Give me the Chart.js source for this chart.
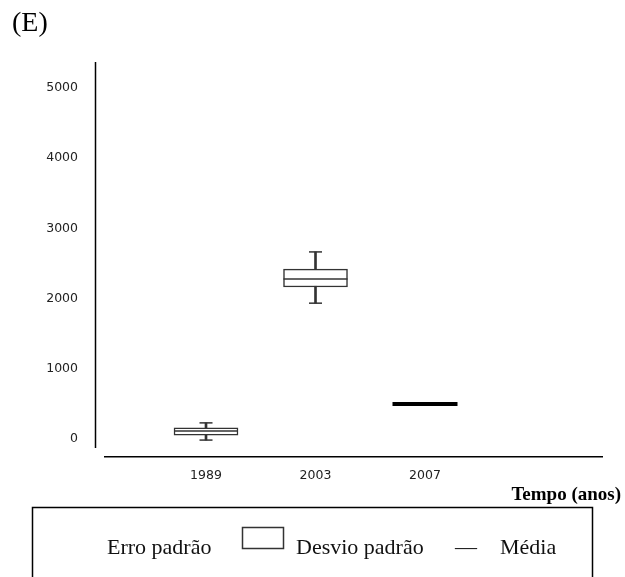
<!DOCTYPE html>
<html>
<head>
<meta charset="utf-8">
<script src="https://cdn.jsdelivr.net/npm/chart.js@4"></script>
<style>
  html, body { margin: 0; padding: 0; background: #fff; }
  canvas { display: block; }
</style>
</head>
<body>
<canvas id="c" width="625" height="577"></canvas>
<script>
// ---- data ----
const years = ['1989', '2003', '2007'];
const whiskerLow  = [-15, 1935, null];
const boxLow      = [55, 2165, null];
const median      = [115, 2280, null];
const boxHigh     = [160, 2420, null];
const whiskerHigh = [230, 2665, null];
const mean        = [null, null, 500];
const yTicks = [0, 1000, 2000, 3000, 4000, 5000];
const legendLabels = ['Erro padrão', 'Desvio padrão', '—', 'Média'];
const chartTitle = '(E)';
const xTitle = 'Tempo (anos)';

function pts(fn) {
  const out = [];
  years.forEach((_, i) => { const v = fn(i); if (v !== null) out.push(v); });
  return out;
}

const dark = '#333';

const decor = {
  id: 'decor',
  afterDraw(chart) {
    const ctx = chart.ctx;
    const a = chart.chartArea;
    ctx.save();
    // y axis line (detached from x axis)
    ctx.strokeStyle = '#000';
    ctx.lineWidth = 1.5;
    ctx.beginPath();
    ctx.moveTo(a.left - 9.5, a.top);
    ctx.lineTo(a.left - 9.5, a.bottom - 9);
    ctx.stroke();
    // title
    ctx.fillStyle = '#000';
    ctx.textBaseline = 'alphabetic';
    ctx.textAlign = 'left';
    ctx.font = '28px "Liberation Serif"';
    ctx.fillText(chartTitle, 12, 31);
    // x axis title
    ctx.font = 'bold 19px "Liberation Serif"';
    ctx.textAlign = 'right';
    ctx.fillText(xTitle, 621, 500);
    // legend frame
    ctx.lineWidth = 1.5;
    ctx.strokeStyle = '#000';
    ctx.strokeRect(32.5, 507.5, 560, 120);
    ctx.font = '22px "Liberation Serif"';
    ctx.textAlign = 'left';
    ctx.fillStyle = '#111';
    ctx.fillText(legendLabels[0], 107, 554);
    ctx.strokeStyle = dark;
    ctx.lineWidth = 1.5;
    ctx.strokeRect(242.5, 527.5, 41, 21);
    ctx.fillText(legendLabels[1], 296, 554);
    ctx.fillText(legendLabels[2], 455, 554);
    ctx.fillText(legendLabels[3], 500, 554);
    ctx.restore();
  }
};

new Chart(document.getElementById('c'), {
  type: 'bar',
  data: {
    datasets: [
      {
        label: 'whiskers',
        data: pts(i => whiskerLow[i] === null ? null : { x: i, y: [whiskerLow[i], whiskerHigh[i]] }),
        backgroundColor: dark,
        borderWidth: 0,
        barThickness: 2,
        grouped: false,
        order: 5
      },
      {
        label: 'box',
        data: pts(i => boxLow[i] === null ? null : { x: i, y: [boxLow[i], boxHigh[i]] }),
        backgroundColor: '#fff',
        borderColor: dark,
        borderWidth: 1.5,
        borderSkipped: false,
        barThickness: 64,
        grouped: false,
        order: 4
      },
      {
        type: 'scatter',
        label: 'median',
        data: pts(i => median[i] === null ? null : { x: i, y: median[i] }),
        pointStyle: 'line',
        pointRadius: 32,
        pointBorderWidth: 1.5,
        borderWidth: 1.5,
        pointBorderColor: dark,
        borderColor: dark,
        order: 1
      },
      {
        type: 'scatter',
        label: 'caps',
        data: pts(i => whiskerLow[i] === null ? null : { x: i, y: whiskerLow[i] })
          .concat(pts(i => whiskerHigh[i] === null ? null : { x: i, y: whiskerHigh[i] })),
        pointStyle: 'line',
        pointRadius: 6.5,
        pointBorderWidth: 1.5,
        borderWidth: 1.5,
        pointBorderColor: dark,
        borderColor: dark,
        order: 1
      },
      {
        type: 'scatter',
        label: 'mean',
        data: pts(i => mean[i] === null ? null : { x: i, y: mean[i] }),
        pointStyle: 'line',
        pointRadius: 32.5,
        pointBorderWidth: 4,
        borderWidth: 4,
        pointBorderColor: '#000',
        borderColor: '#000',
        order: 1
      }
    ]
  },
  options: {
    responsive: false,
    animation: false,
    devicePixelRatio: 1,
    events: [],
    layout: { autoPadding: false, padding: { left: 0, right: 23, top: 62, bottom: 80 } },
    plugins: {
      legend: { display: false },
      tooltip: { enabled: false },
      title: { display: false }
    },
    scales: {
      x: {
        type: 'linear',
        offset: false,
        min: -0.9224,
        max: 3.6164,
        grid: { display: false, drawTicks: false, offset: false },
        border: { display: true, color: '#000', width: 1.5 },
        afterBuildTicks: s => { s.ticks = years.map((_, i) => ({ value: i })); },
        afterFit: s => { s.height = 40; },
        ticks: {
          autoSkip: false,
          maxRotation: 0,
          padding: 11,
          color: '#222',
          font: { family: 'DejaVu Sans', size: 12.5 },
          callback: v => years[v] !== undefined ? years[v] : ''
        }
      },
      y: {
        type: 'linear',
        min: -256,
        max: 5370,
        grid: { display: false, drawTicks: false },
        border: { display: false },
        afterBuildTicks: s => { s.ticks = yTicks.map(v => ({ value: v })); },
        afterFit: s => { s.width = 105; },
        ticks: {
          padding: 27,
          color: '#222',
          font: { family: 'DejaVu Sans', size: 12.5 },
          callback: v => String(v)
        }
      }
    }
  },
  plugins: [decor]
});
</script>
</body>
</html>
